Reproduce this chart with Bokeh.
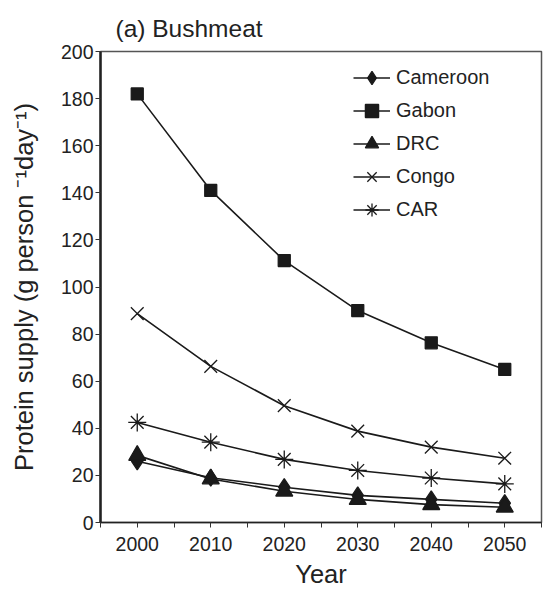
from bokeh.plotting import figure
from bokeh.models import FixedTicker, Legend, LegendItem
from bokeh.embed import file_html
from bokeh.resources import INLINE

years = [2000, 2010, 2020, 2030, 2040, 2050]
cameroon = [26, 19, 15, 11.5, 9.8, 8.2]
gabon = [182, 141, 111.2, 90, 76.3, 65]
drc = [28.5, 18.5, 13.3, 9.8, 7.6, 6.5]
congo = [88.7, 66.3, 49.6, 38.8, 32, 27.3]
car = [42.5, 34.1, 26.8, 22.1, 18.9, 16.4]

names = ["Cameroon", "Gabon", "DRC", "Congo", "CAR"]
series = [cameroon, gabon, drc, congo, car]
markers = ["diamond", "square", "triangle", "x", "asterisk"]
sizes = [17, 12, 17, 18, 18]

FONT = "Liberation Sans"

p = figure(width=543, height=590, output_backend="svg", toolbar_location=None,
           x_range=(1995, 2055), y_range=(0, 200),
           min_border_left=100, min_border_right=2, min_border_top=51, min_border_bottom=66)
p.title.text = "(a) Bushmeat"
p.title.text_font = FONT
p.title.text_font_size = "24.5px"
p.title.text_font_style = "normal"
p.title.text_color = "#222222"
p.title.offset = 15
p.title.standoff = 20

p.xgrid.visible = False
p.ygrid.visible = False
p.outline_line_color = "#555555"
p.outline_line_width = 1.5

items = []
for name, vals, m, s in zip(names, series, markers, sizes):
    r1 = p.line(years, vals, line_color="#1a1a1a", line_width=1.6)
    r2 = p.scatter(years, vals, marker=m, size=s, line_color="#1a1a1a",
                   fill_color="#1a1a1a", line_width=1.3)
    items.append(LegendItem(label=name, renderers=[r1, r2]))

legend = Legend(items=items, location=(253, 296))
legend.label_text_font = FONT
legend.label_text_font_size = "20px"
legend.label_text_color = "#222222"
legend.glyph_width = 37
legend.glyph_height = 33
legend.label_height = 20
legend.spacing = 0
legend.label_standoff = 6
legend.padding = 10
legend.border_line_color = None
legend.background_fill_alpha = 0
p.add_layout(legend)

p.xaxis.ticker = FixedTicker(ticks=years, minor_ticks=[1995, 2005, 2015, 2025, 2035, 2045, 2055])
p.yaxis.ticker = FixedTicker(ticks=list(range(0, 201, 20)), minor_ticks=[])
for ax in (p.xaxis[0], p.yaxis[0]):
    ax.major_label_text_font = FONT
    ax.major_label_text_font_size = "19.5px"
    ax.major_label_text_color = "#222222"
    ax.axis_label_text_font = FONT
    ax.axis_label_text_font_size = "25.5px"
    ax.axis_label_text_font_style = "normal"
    ax.axis_label_text_color = "#222222"
    ax.axis_line_color = "#222222"
    ax.major_tick_line_color = "#333333"
    ax.minor_tick_line_color = "#333333"
    ax.major_tick_in = 0
    ax.major_tick_out = 5
    ax.minor_tick_in = 0
    ax.minor_tick_out = 5

p.xaxis.axis_label = "Year"
p.xaxis.major_label_standoff = 9
p.xaxis.axis_label_standoff = 6
p.xaxis.axis_line_width = 1.5
p.yaxis.axis_label = "Protein supply (g person \u207b\u00b9day\u207b\u00b9)"
p.yaxis.axis_line_width = 2.5
p.yaxis.major_label_standoff = 2
p.yaxis.axis_label_standoff = 20

open("out.html", "w").write(file_html(p, INLINE))
